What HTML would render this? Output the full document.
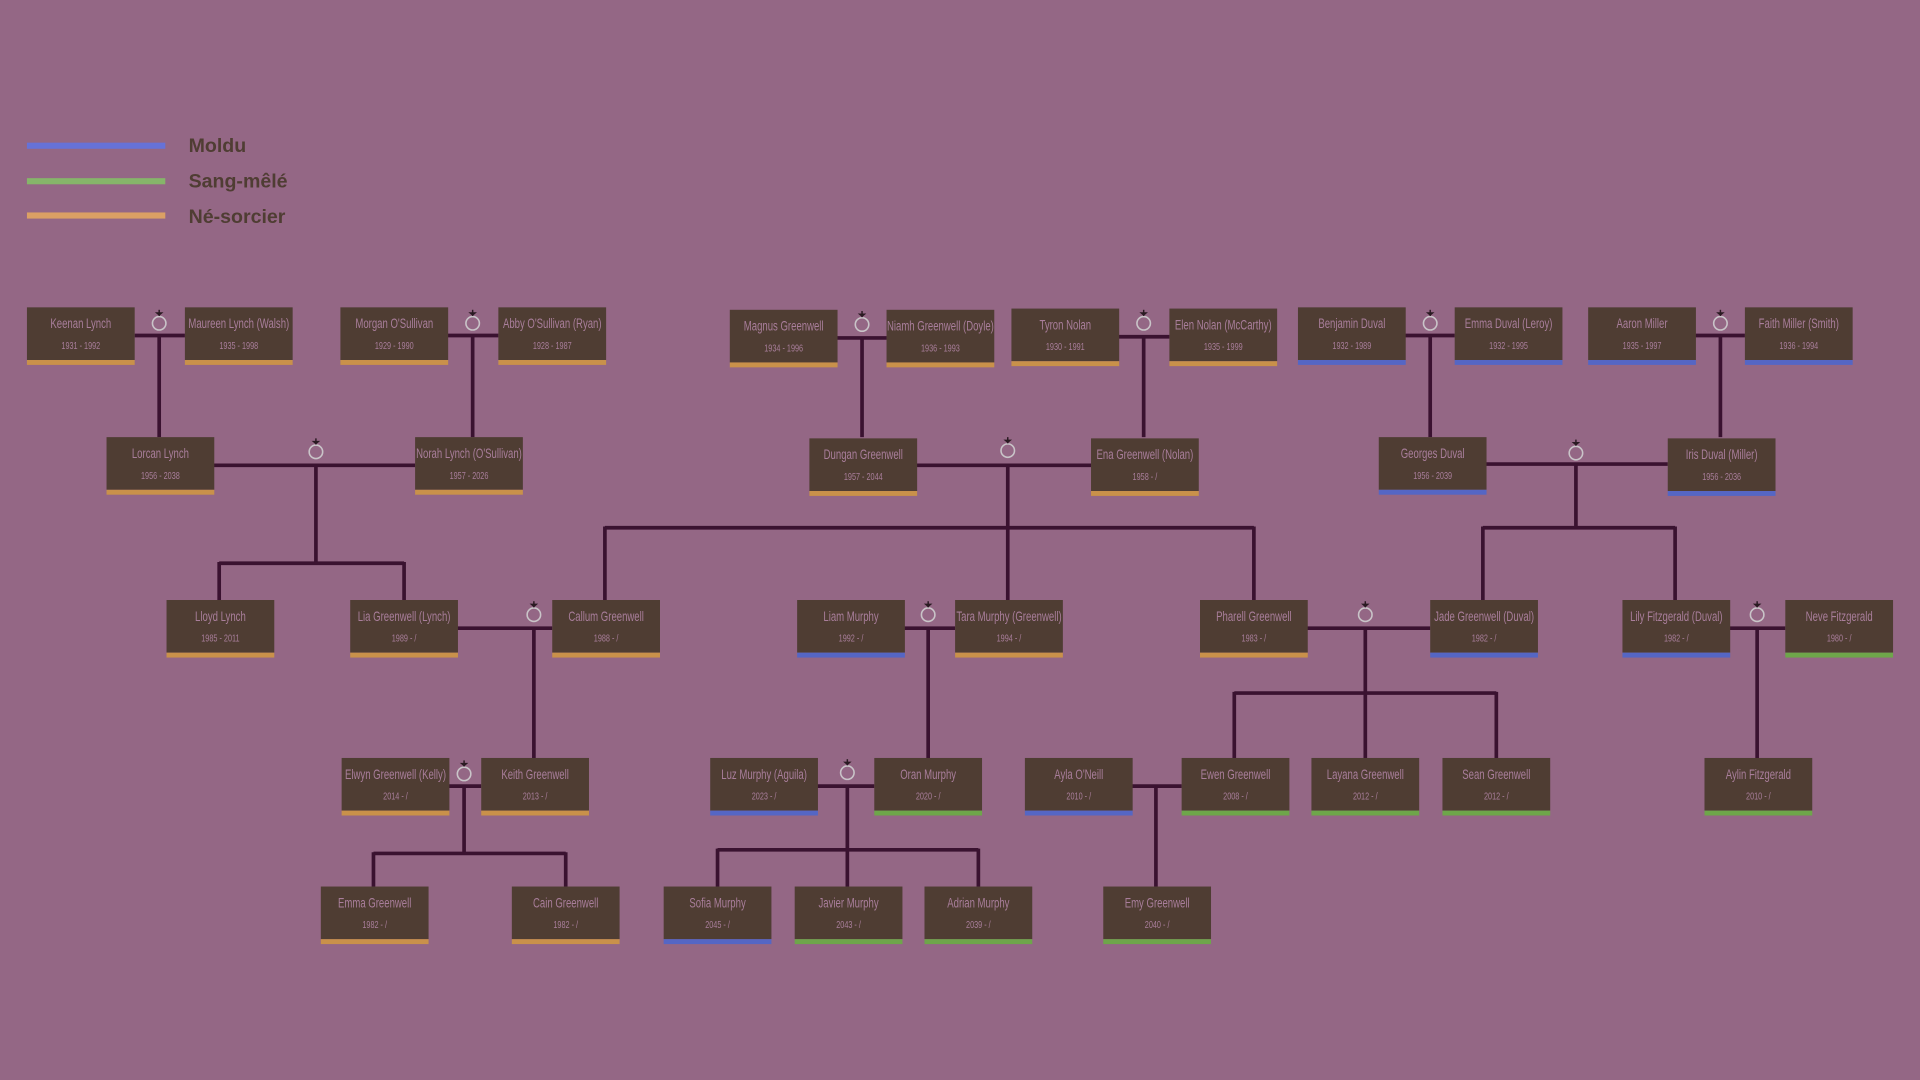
<!DOCTYPE html>
<html><head><meta charset="utf-8"><style>
html,body{margin:0;padding:0;background:#946785;}
svg{display:block}
.n{font-family:"Liberation Sans Narrow","Liberation Sans",sans-serif;font-size:11.5px;fill:#a97e9b;text-anchor:middle;transform:scaleX(0.68);transform-origin:44px 0;}
.d{font-family:"Liberation Sans Narrow","Liberation Sans",sans-serif;font-size:8.5px;fill:#a97e9b;text-anchor:middle;transform:scaleX(0.7);transform-origin:44px 0;}
.lg{font-family:"Liberation Sans",sans-serif;font-weight:bold;font-size:16px;fill:#4f3d33}
</style></head><body>
<svg width="1920" height="1080" viewBox="0 0 1568 882" xmlns="http://www.w3.org/2000/svg">
<rect width="1568" height="882" fill="#946785"/>
<defs>
<g id="ring"><circle cx="0" cy="0" r="5.5" fill="none" stroke="#c9c4c8" stroke-width="1.3"/><path d="M-3.5,-9 L3.5,-9 L0,-6 Z" fill="#2a1a22"/><rect x="-0.6" y="-11" width="1.2" height="5" fill="#2a1a22"/></g>
</defs>
<rect x="22" y="116.5" width="113" height="5" fill="#6672d8"/>
<rect x="22" y="145.5" width="113" height="5" fill="#86b56a"/>
<rect x="22" y="173.5" width="113" height="5" fill="#dba064"/>
<text class="lg" x="154" y="124">Moldu</text>
<text class="lg" x="154" y="153">Sang-mêlé</text>
<text class="lg" x="154" y="182">Né-sorcier</text>

<g stroke="#3a1230" stroke-width="3" fill="none">
<path d="M110 274H151M130 274V357"/>
<path d="M365 274H407M386 274V357"/>
<path d="M174 380H339M258 380V460M179 460H330M179 459V490M330 459V490"/>
<path d="M683 276H724M704 276V357"/>
<path d="M913 275H955M934 275V357"/>
<path d="M748 380H891M823 380V490M494 431H1024M494 430V490M1024 430V490"/>
<path d="M1147 274H1188M1168 274V357"/>
<path d="M1384 274H1425M1405 274V357"/>
<path d="M1213 379H1362M1287 379V431M1211 431H1368M1211 430V490M1368 430V490"/>
<path d="M373 513H451M436 513V619"/>
<path d="M738 513H780M758 513V619"/>
<path d="M1067 513H1168M1115 513V566M1008 566H1222M1008 565V619M1115 565V619M1222 565V619"/>
<path d="M1412 513H1458M1435 513V619"/>
<path d="M366 642H393M379 642V697M305 697H462M305 696V724M462 696V724"/>
<path d="M667 642H714M692 642V694M586 694H799M586 693V724M692 693V724M799 693V724"/>
<path d="M924 642H965M944 642V724"/>
</g>

<use href="#ring" x="130" y="264"/>
<use href="#ring" x="386" y="264"/>
<use href="#ring" x="258" y="369"/>
<use href="#ring" x="704" y="265"/>
<use href="#ring" x="934" y="264"/>
<use href="#ring" x="823" y="368"/>
<use href="#ring" x="1168" y="264"/>
<use href="#ring" x="1405" y="264"/>
<use href="#ring" x="1287" y="370"/>
<use href="#ring" x="436" y="502"/>
<use href="#ring" x="758" y="502"/>
<use href="#ring" x="1115" y="502"/>
<use href="#ring" x="1435" y="502"/>
<use href="#ring" x="379" y="632"/>
<use href="#ring" x="692" y="631"/>

<g>
<g transform="translate(22,251)"><rect width="88" height="43" fill="#4f3d33"/><rect y="43" width="88" height="4" fill="#c9914a"/><text class="n" x="44" y="17">Keenan Lynch</text><text class="d" x="44" y="34">1931 - 1992</text></g>
<g transform="translate(151,251)"><rect width="88" height="43" fill="#4f3d33"/><rect y="43" width="88" height="4" fill="#c9914a"/><text class="n" x="44" y="17">Maureen Lynch (Walsh)</text><text class="d" x="44" y="34">1935 - 1998</text></g>
<g transform="translate(278,251)"><rect width="88" height="43" fill="#4f3d33"/><rect y="43" width="88" height="4" fill="#c9914a"/><text class="n" x="44" y="17">Morgan O'Sullivan</text><text class="d" x="44" y="34">1929 - 1990</text></g>
<g transform="translate(407,251)"><rect width="88" height="43" fill="#4f3d33"/><rect y="43" width="88" height="4" fill="#c9914a"/><text class="n" x="44" y="17">Abby O'Sullivan (Ryan)</text><text class="d" x="44" y="34">1928 - 1987</text></g>
<g transform="translate(596,253)"><rect width="88" height="43" fill="#4f3d33"/><rect y="43" width="88" height="4" fill="#c9914a"/><text class="n" x="44" y="17">Magnus Greenwell</text><text class="d" x="44" y="34">1934 - 1996</text></g>
<g transform="translate(724,253)"><rect width="88" height="43" fill="#4f3d33"/><rect y="43" width="88" height="4" fill="#c9914a"/><text class="n" x="44" y="17">Niamh Greenwell (Doyle)</text><text class="d" x="44" y="34">1936 - 1993</text></g>
<g transform="translate(826,252)"><rect width="88" height="43" fill="#4f3d33"/><rect y="43" width="88" height="4" fill="#c9914a"/><text class="n" x="44" y="17">Tyron Nolan</text><text class="d" x="44" y="34">1930 - 1991</text></g>
<g transform="translate(955,252)"><rect width="88" height="43" fill="#4f3d33"/><rect y="43" width="88" height="4" fill="#c9914a"/><text class="n" x="44" y="17">Elen Nolan (McCarthy)</text><text class="d" x="44" y="34">1935 - 1999</text></g>
<g transform="translate(1060,251)"><rect width="88" height="43" fill="#4f3d33"/><rect y="43" width="88" height="4" fill="#5566c4"/><text class="n" x="44" y="17">Benjamin Duval</text><text class="d" x="44" y="34">1932 - 1989</text></g>
<g transform="translate(1188,251)"><rect width="88" height="43" fill="#4f3d33"/><rect y="43" width="88" height="4" fill="#5566c4"/><text class="n" x="44" y="17">Emma Duval (Leroy)</text><text class="d" x="44" y="34">1932 - 1995</text></g>
<g transform="translate(1297,251)"><rect width="88" height="43" fill="#4f3d33"/><rect y="43" width="88" height="4" fill="#5566c4"/><text class="n" x="44" y="17">Aaron Miller</text><text class="d" x="44" y="34">1935 - 1997</text></g>
<g transform="translate(1425,251)"><rect width="88" height="43" fill="#4f3d33"/><rect y="43" width="88" height="4" fill="#5566c4"/><text class="n" x="44" y="17">Faith Miller (Smith)</text><text class="d" x="44" y="34">1936 - 1994</text></g>

<g transform="translate(87,357)"><rect width="88" height="43" fill="#4f3d33"/><rect y="43" width="88" height="4" fill="#c9914a"/><text class="n" x="44" y="17">Lorcan Lynch</text><text class="d" x="44" y="34">1956 - 2038</text></g>
<g transform="translate(339,357)"><rect width="88" height="43" fill="#4f3d33"/><rect y="43" width="88" height="4" fill="#c9914a"/><text class="n" x="44" y="17">Norah Lynch (O'Sullivan)</text><text class="d" x="44" y="34">1957 - 2026</text></g>
<g transform="translate(661,358)"><rect width="88" height="43" fill="#4f3d33"/><rect y="43" width="88" height="4" fill="#c9914a"/><text class="n" x="44" y="17">Dungan Greenwell</text><text class="d" x="44" y="34">1957 - 2044</text></g>
<g transform="translate(891,358)"><rect width="88" height="43" fill="#4f3d33"/><rect y="43" width="88" height="4" fill="#c9914a"/><text class="n" x="44" y="17">Ena Greenwell (Nolan)</text><text class="d" x="44" y="34">1958 - /</text></g>
<g transform="translate(1126,357)"><rect width="88" height="43" fill="#4f3d33"/><rect y="43" width="88" height="4" fill="#5566c4"/><text class="n" x="44" y="17">Georges Duval</text><text class="d" x="44" y="34">1956 - 2039</text></g>
<g transform="translate(1362,358)"><rect width="88" height="43" fill="#4f3d33"/><rect y="43" width="88" height="4" fill="#5566c4"/><text class="n" x="44" y="17">Iris Duval (Miller)</text><text class="d" x="44" y="34">1956 - 2036</text></g>

<g transform="translate(136,490)"><rect width="88" height="43" fill="#4f3d33"/><rect y="43" width="88" height="4" fill="#c9914a"/><text class="n" x="44" y="17">Lloyd Lynch</text><text class="d" x="44" y="34">1985 - 2011</text></g>
<g transform="translate(286,490)"><rect width="88" height="43" fill="#4f3d33"/><rect y="43" width="88" height="4" fill="#c9914a"/><text class="n" x="44" y="17">Lia Greenwell (Lynch)</text><text class="d" x="44" y="34">1989 - /</text></g>
<g transform="translate(451,490)"><rect width="88" height="43" fill="#4f3d33"/><rect y="43" width="88" height="4" fill="#c9914a"/><text class="n" x="44" y="17">Callum Greenwell</text><text class="d" x="44" y="34">1988 - /</text></g>
<g transform="translate(651,490)"><rect width="88" height="43" fill="#4f3d33"/><rect y="43" width="88" height="4" fill="#5566c4"/><text class="n" x="44" y="17">Liam Murphy</text><text class="d" x="44" y="34">1992 - /</text></g>
<g transform="translate(780,490)"><rect width="88" height="43" fill="#4f3d33"/><rect y="43" width="88" height="4" fill="#c9914a"/><text class="n" x="44" y="17">Tara Murphy (Greenwell)</text><text class="d" x="44" y="34">1994 - /</text></g>
<g transform="translate(980,490)"><rect width="88" height="43" fill="#4f3d33"/><rect y="43" width="88" height="4" fill="#c9914a"/><text class="n" x="44" y="17">Pharell Greenwell</text><text class="d" x="44" y="34">1983 - /</text></g>
<g transform="translate(1168,490)"><rect width="88" height="43" fill="#4f3d33"/><rect y="43" width="88" height="4" fill="#5566c4"/><text class="n" x="44" y="17">Jade Greenwell (Duval)</text><text class="d" x="44" y="34">1982 - /</text></g>
<g transform="translate(1325,490)"><rect width="88" height="43" fill="#4f3d33"/><rect y="43" width="88" height="4" fill="#5566c4"/><text class="n" x="44" y="17">Lily Fitzgerald (Duval)</text><text class="d" x="44" y="34">1982 - /</text></g>
<g transform="translate(1458,490)"><rect width="88" height="43" fill="#4f3d33"/><rect y="43" width="88" height="4" fill="#6ea64a"/><text class="n" x="44" y="17">Neve Fitzgerald</text><text class="d" x="44" y="34">1980 - /</text></g>

<g transform="translate(279,619)"><rect width="88" height="43" fill="#4f3d33"/><rect y="43" width="88" height="4" fill="#c9914a"/><text class="n" x="44" y="17">Elwyn Greenwell (Kelly)</text><text class="d" x="44" y="34">2014 - /</text></g>
<g transform="translate(393,619)"><rect width="88" height="43" fill="#4f3d33"/><rect y="43" width="88" height="4" fill="#c9914a"/><text class="n" x="44" y="17">Keith Greenwell</text><text class="d" x="44" y="34">2013 - /</text></g>
<g transform="translate(580,619)"><rect width="88" height="43" fill="#4f3d33"/><rect y="43" width="88" height="4" fill="#5566c4"/><text class="n" x="44" y="17">Luz Murphy (Aguila)</text><text class="d" x="44" y="34">2023 - /</text></g>
<g transform="translate(714,619)"><rect width="88" height="43" fill="#4f3d33"/><rect y="43" width="88" height="4" fill="#6ea64a"/><text class="n" x="44" y="17">Oran Murphy</text><text class="d" x="44" y="34">2020 - /</text></g>
<g transform="translate(837,619)"><rect width="88" height="43" fill="#4f3d33"/><rect y="43" width="88" height="4" fill="#5566c4"/><text class="n" x="44" y="17">Ayla O'Neill</text><text class="d" x="44" y="34">2010 - /</text></g>
<g transform="translate(965,619)"><rect width="88" height="43" fill="#4f3d33"/><rect y="43" width="88" height="4" fill="#6ea64a"/><text class="n" x="44" y="17">Ewen Greenwell</text><text class="d" x="44" y="34">2008 - /</text></g>
<g transform="translate(1071,619)"><rect width="88" height="43" fill="#4f3d33"/><rect y="43" width="88" height="4" fill="#6ea64a"/><text class="n" x="44" y="17">Layana Greenwell</text><text class="d" x="44" y="34">2012 - /</text></g>
<g transform="translate(1178,619)"><rect width="88" height="43" fill="#4f3d33"/><rect y="43" width="88" height="4" fill="#6ea64a"/><text class="n" x="44" y="17">Sean Greenwell</text><text class="d" x="44" y="34">2012 - /</text></g>
<g transform="translate(1392,619)"><rect width="88" height="43" fill="#4f3d33"/><rect y="43" width="88" height="4" fill="#6ea64a"/><text class="n" x="44" y="17">Aylin Fitzgerald</text><text class="d" x="44" y="34">2010 - /</text></g>

<g transform="translate(262,724)"><rect width="88" height="43" fill="#4f3d33"/><rect y="43" width="88" height="4" fill="#c9914a"/><text class="n" x="44" y="17">Emma Greenwell</text><text class="d" x="44" y="34">1982 - /</text></g>
<g transform="translate(418,724)"><rect width="88" height="43" fill="#4f3d33"/><rect y="43" width="88" height="4" fill="#c9914a"/><text class="n" x="44" y="17">Cain Greenwell</text><text class="d" x="44" y="34">1982 - /</text></g>
<g transform="translate(542,724)"><rect width="88" height="43" fill="#4f3d33"/><rect y="43" width="88" height="4" fill="#5566c4"/><text class="n" x="44" y="17">Sofia Murphy</text><text class="d" x="44" y="34">2045 - /</text></g>
<g transform="translate(649,724)"><rect width="88" height="43" fill="#4f3d33"/><rect y="43" width="88" height="4" fill="#6ea64a"/><text class="n" x="44" y="17">Javier Murphy</text><text class="d" x="44" y="34">2043 - /</text></g>
<g transform="translate(755,724)"><rect width="88" height="43" fill="#4f3d33"/><rect y="43" width="88" height="4" fill="#6ea64a"/><text class="n" x="44" y="17">Adrian Murphy</text><text class="d" x="44" y="34">2039 - /</text></g>
<g transform="translate(901,724)"><rect width="88" height="43" fill="#4f3d33"/><rect y="43" width="88" height="4" fill="#6ea64a"/><text class="n" x="44" y="17">Emy Greenwell</text><text class="d" x="44" y="34">2040 - /</text></g>
</g>
</svg>
</body></html>
